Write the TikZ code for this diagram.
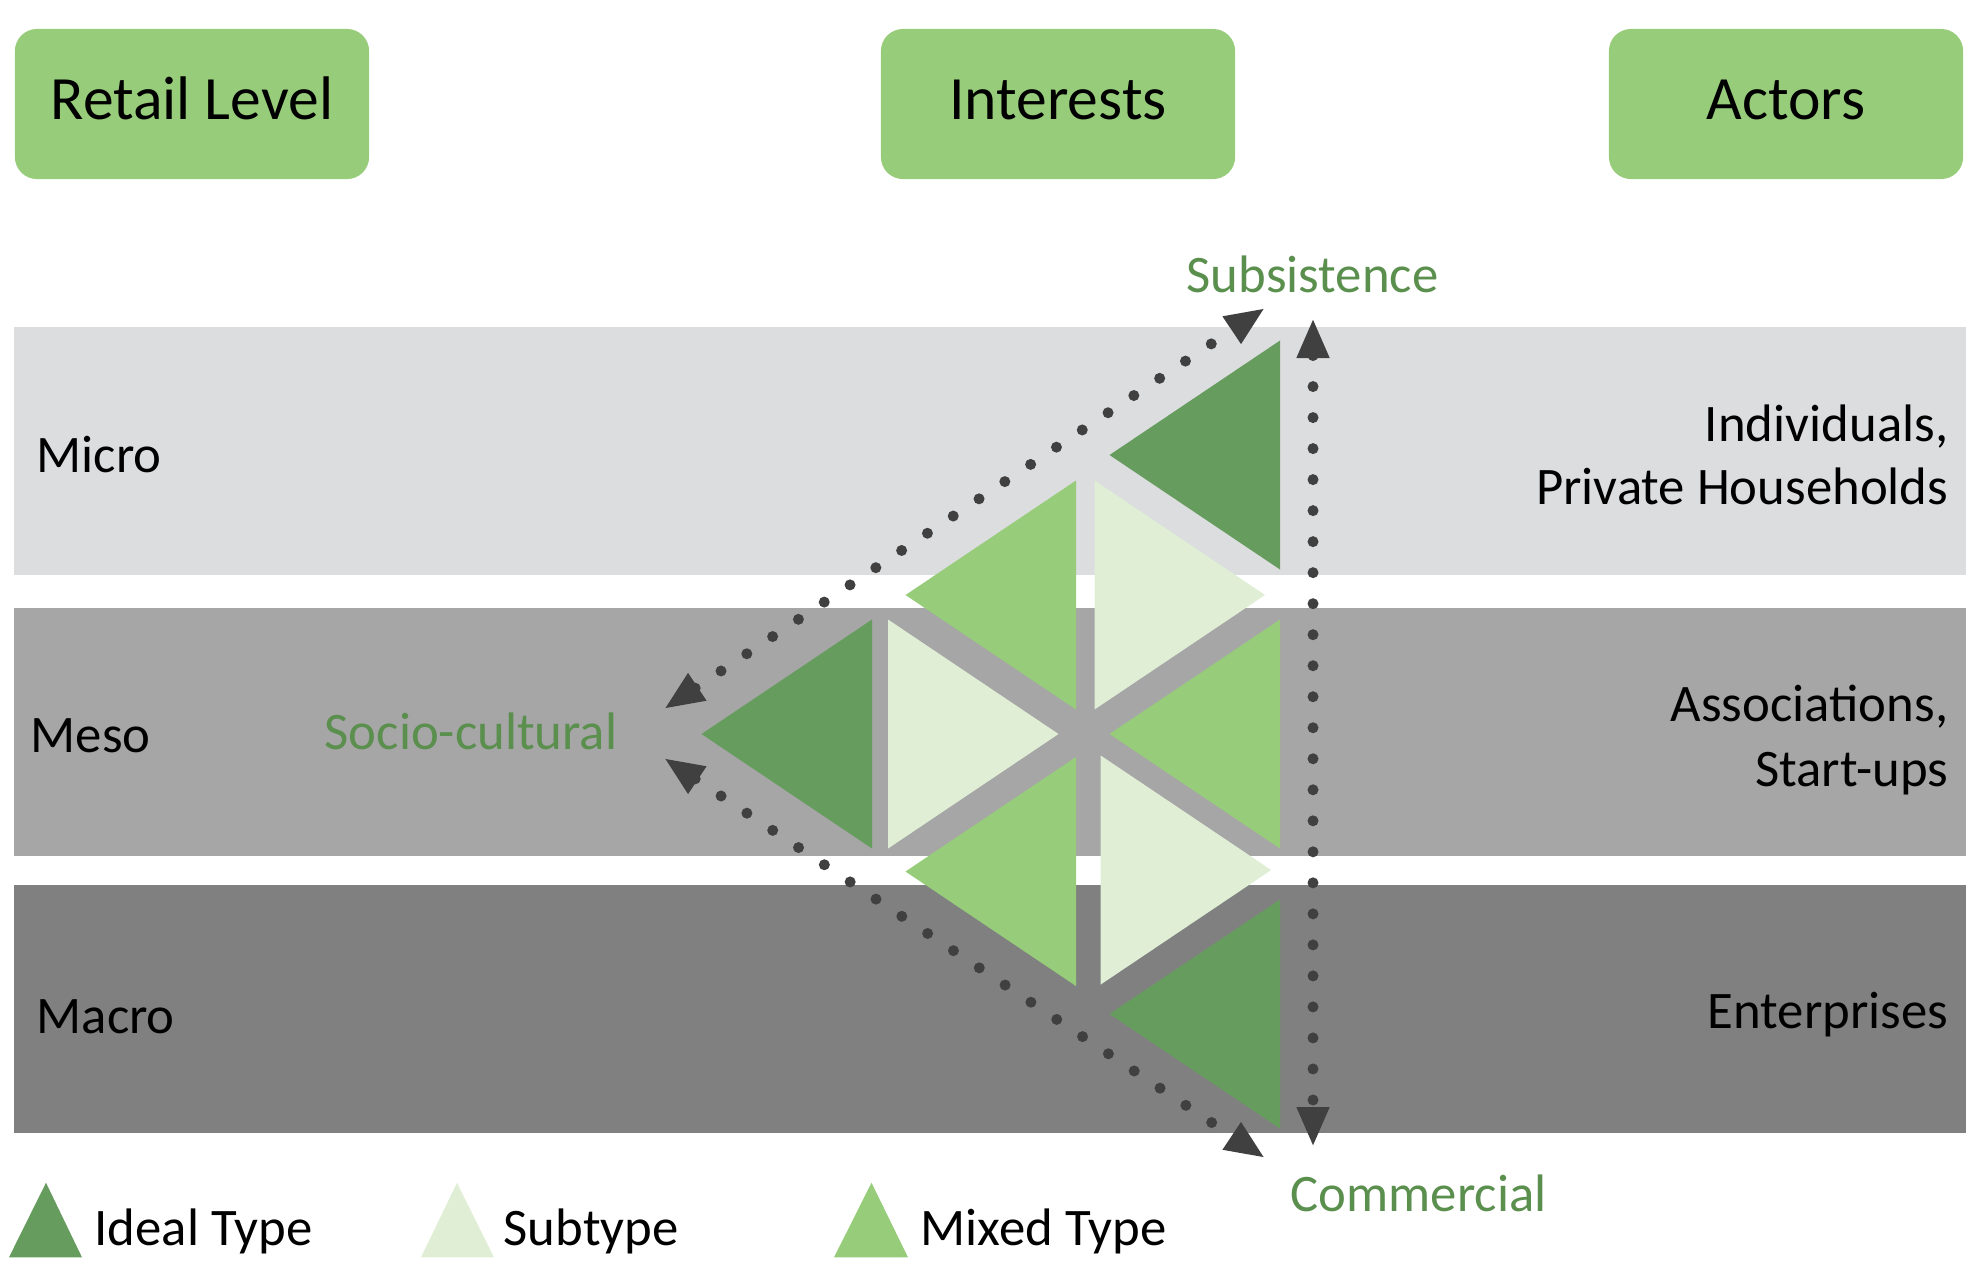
\documentclass[tikz,border=0pt]{standalone}
\usepackage{fontspec}
\setmainfont{Carlito}
\usetikzlibrary{arrows.meta}
\definecolor{idealgreen}{HTML}{669D5E}
\definecolor{mixedgreen}{HTML}{97CC7A}
\definecolor{subgreen}{HTML}{E0EED6}
\definecolor{labelgreen}{HTML}{5A8F4E}
\definecolor{microgray}{HTML}{DCDDDF}
\definecolor{mesogray}{HTML}{A6A6A6}
\definecolor{macrogray}{HTML}{808080}
\definecolor{arrowgray}{HTML}{404040}
\begin{document}
\begin{tikzpicture}
  [
    x=0.01cm, y=-0.01cm, inner sep=0mm,
    header/.style={rectangle,rounded corners=0.22cm,fill=mixedgreen,minimum width=3.54cm,minimum height=1.5cm,
      text height=0.4cm,text depth=0.1cm,font=\fontsize{17.5}{21}\selectfont},
    band/.style={rectangle,minimum width=19.5cm,minimum height=2.48cm},
    txt/.style={font=\fontsize{15}{18}\selectfont},
    level/.style={txt,anchor=base west},
    actor/.style={txt,anchor=base east},
    interest/.style={txt,anchor=base,text=labelgreen},
    legend/.style={txt,anchor=base west},
    flow/.style={draw=arrowgray,line width=0.11cm,line cap=round,dash pattern=on 0pt off 0.31cm,
      {Triangle[length=0.4cm,width=0.3cm]}-{Triangle[length=0.4cm,width=0.3cm]}},
  ]
  \useasboundingbox (0,0) rectangle (1980,1278);

  % headers
  \node[header] (retail)    at (192,104)  {Retail Level};
  \node[header] (interests) at (1058,104) {Interests};
  \node[header] (actors)    at (1786,104) {Actors};

  % levels
  \node[band,fill=microgray] (micro band) at (990,451)  {};
  \node[band,fill=mesogray]  (meso band)  at (990,732)  {};
  \node[band,fill=macrogray] (macro band) at (990,1009) {};
  \node[level] (micro) at (36,472.6)  {Micro};
  \node[level] (meso)  at (30,752.4)  {Meso};
  \node[level] (macro) at (36,1033.5) {Macro};

  \node[actor] (individuals) at (1949,441) {Individuals,};
  \node[actor] (households)  at (1949,504) {Private Households};
  \node[actor] (associations) at (1949,721) {Associations,};
  \node[actor] (startups)     at (1949,786) {Start-ups};
  \node[actor] (enterprises)  at (1949,1028) {Enterprises};

  % triangles pointing left (right side x / centre y)
  \foreach \x/\y/\c in {1280/455/idealgreen,872/734/idealgreen,1280/1014/idealgreen,
                        1076/595/mixedgreen,1280/734/mixedgreen,1076/871.5/mixedgreen}
    \fill[\c] (\x,\y-114.5) -- (\x,\y+114.5) -- (\x-170.5,\y) -- cycle;
  % triangles pointing right (left side x / centre y)
  \foreach \x/\y in {1094.5/595,888/734,1100.7/870}
    \fill[subgreen] (\x,\y-114.5) -- (\x,\y+114.5) -- (\x+170.5,\y) -- cycle;

  % interests
  \node[interest] (subsistence) at (1312.5,292)  {Subsistence};
  \node[interest,anchor=base east] (socio) at (618,749.5) {Socio-cultural};
  \node[interest] (commercial)  at (1418.5,1211.7) {Commercial};

  \coordinate (subs end)  at (1313,318);
  \coordinate (comm end)  at (1313,1147);
  \coordinate (subs diag) at (1265,308);
  \coordinate (comm diag) at (1265,1158);
  \coordinate (socio up)  at (664,709);
  \coordinate (socio low) at (664,758);
  \draw[flow] (subs end) -- (comm end);
  \draw[flow] (socio up) -- (subs diag);
  \draw[flow] (socio low) -- (comm diag);

  % legend
  \fill[idealgreen] (9,1257.3) -- (82,1257.3) -- (46,1182.7) -- cycle;
  \fill[subgreen]   (421,1257.3) -- (494,1257.3) -- (457,1182.7) -- cycle;
  \fill[mixedgreen] (834,1257.3) -- (908,1257.3) -- (871.5,1182.7) -- cycle;
  \node[legend] (ideal key) at (94,1245)  {Ideal Type};
  \node[legend] (sub key)   at (503,1245) {Subtype};
  \node[legend] (mixed key) at (920,1245) {Mixed Type};
\end{tikzpicture}
\end{document}
